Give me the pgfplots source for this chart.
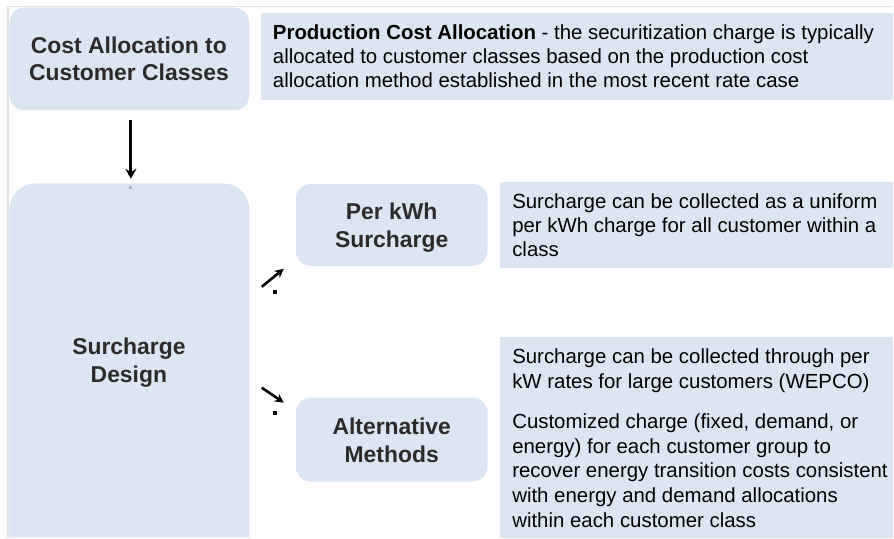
\documentclass[border=0pt]{standalone}
\usepackage{fontspec}
\setmainfont{Liberation Sans}
\usepackage{pgfplots}
\pgfplotsset{compat=1.18}
\usetikzlibrary{arrows.meta}
\definecolor{boxfill}{HTML}{DCE6F2}
\definecolor{boxtext}{HTML}{2B2B2B}
\definecolor{frame}{HTML}{E2E2E2}
\begin{document}
\begin{tikzpicture}[
    body/.style={anchor=base west, inner sep=0pt, font=\fontsize{20.5}{24}\selectfont},
    head/.style={anchor=base, inner sep=0pt, text=boxtext, font=\fontsize{23}{27}\selectfont\bfseries},
]
\begin{axis}[
    width=894bp, height=538bp, scale only axis,
    xmin=0, xmax=894, ymin=0, ymax=538,
    y dir=reverse, hide axis, clip=false,
]
% keep the whole canvas in the bounding box
\path (axis cs:0,0) rectangle (axis cs:894,538);

% faint frame
\draw[frame, line width=1.5bp] (axis cs:8,538) -- (axis cs:8,6.5) -- (axis cs:894,6.5);

% left boxes
\fill[boxfill, rounded corners=15bp] (axis cs:9.5,7.5) rectangle (axis cs:249.5,110.5);
\fill[boxfill] (axis cs:9.5,538) [rounded corners=26bp] -- (axis cs:9.5,183.5) -- (axis cs:249.5,183.5) [sharp corners] -- (axis cs:249.5,538) -- cycle;

% middle boxes
\fill[boxfill, rounded corners=15bp] (axis cs:296,184) rectangle (axis cs:488,266);
\fill[boxfill, rounded corners=15bp] (axis cs:296,398) rectangle (axis cs:488,482);

% text boxes
\fill[boxfill] (axis cs:261,13.5) rectangle (axis cs:894,100);
\fill[boxfill] (axis cs:500,182) rectangle (axis cs:894,268.5);
\fill[boxfill] (axis cs:500,337) rectangle (axis cs:894,538);

% headings
\node[head] at (axis cs:129,54) {Cost Allocation to};
\node[head] at (axis cs:129,81) {Customer Classes};
\node[head] at (axis cs:129,355) {Surcharge};
\node[head] at (axis cs:129,383) {Design};
\node[head] at (axis cs:392,219.5) {Per kWh};
\node[head] at (axis cs:392,247.5) {Surcharge};
\node[head] at (axis cs:392,435) {Alternative};
\node[head] at (axis cs:392,462.5) {Methods};

% body text
\node[body] at (axis cs:273,39.5) {\textbf{Production Cost Allocation} - the securitization charge is typically};
\node[body] at (axis cs:273,63.5) {allocated to customer classes based on the production cost};
\node[body] at (axis cs:273,87.5) {allocation method established in the most recent rate case};

\node[body] at (axis cs:512.5,209) {Surcharge can be collected as a uniform};
\node[body] at (axis cs:512.5,233) {per kWh charge for all customer within a};
\node[body] at (axis cs:512.5,257) {class};

\node[body] at (axis cs:512.5,364) {Surcharge can be collected through per};
\node[body] at (axis cs:512.5,388.5) {kW rates for large customers (WEPCO)};
\node[body] at (axis cs:512.5,428.5) {Customized charge (fixed, demand, or};
\node[body] at (axis cs:512.5,453.5) {energy) for each customer group to};
\node[body] at (axis cs:512.5,477.5) {recover energy transition costs consistent};
\node[body] at (axis cs:512.5,503) {with energy and demand allocations};
\node[body] at (axis cs:512.5,527.5) {within each customer class};

% arrows
\draw[line width=3bp, -{Stealth[length=10bp, width=11bp]}] (axis cs:131,120) -- (axis cs:131,179);
\fill[gray!60] (axis cs:129.5,186.5) rectangle (axis cs:132.5,189.5);

\draw[line width=2.6bp, -{Stealth[length=9bp, width=9bp]}] (axis cs:262,287) -- (axis cs:284,269);
\fill[black] (axis cs:273,290) rectangle (axis cs:277,294);
\draw[line width=2.6bp, -{Stealth[length=9bp, width=9bp]}] (axis cs:262,388) -- (axis cs:284,403);
\fill[black] (axis cs:273,411) rectangle (axis cs:277,415);
\end{axis}
\end{tikzpicture}
\end{document}
